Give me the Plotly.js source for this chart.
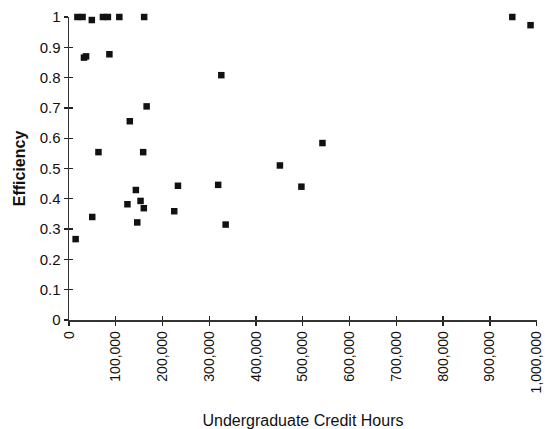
<!DOCTYPE html>
<html>
<head>
<meta charset="utf-8">
<script src="https://cdn.plot.ly/plotly-3.0.1.min.js"></script>
<style>html,body{margin:0;padding:0;background:#fff;}#chart{width:545px;height:429px;}</style>
</head>
<body>
<div id="chart"></div>
<script>
// Undergraduate credit hours (x) and efficiency (y)
const creditHours = [18000, 29000, 48800, 72600, 83200, 107600, 160700,
  32000, 36500, 86400, 325700, 166000, 130000, 63000, 158600,
  14200, 49700, 125000, 143000, 146000, 153000, 160000, 225000, 233000,
  319000, 335000, 451000, 497000, 542000, 948000, 987000];
const efficiency = [1.0, 1.0, 0.99, 1.0, 1.0, 1.0, 1.0,
  0.866, 0.870, 0.877, 0.808, 0.705, 0.656, 0.554, 0.554,
  0.267, 0.340, 0.382, 0.429, 0.322, 0.393, 0.369, 0.359, 0.443,
  0.446, 0.315, 0.510, 0.440, 0.584, 1.0, 0.973];
const xTickVals = [0, 100000, 200000, 300000, 400000, 500000, 600000, 700000, 800000, 900000, 1000000];
const xTitle = "Undergraduate Credit Hours";
const yTitle = "Efficiency";

const font = "Liberation Sans, Arial, sans-serif";
const trace = {
  x: creditHours, y: efficiency, type: "scatter", mode: "markers",
  marker: {symbol: "square", size: 6.5, color: "#111"},
  cliponaxis: false, showlegend: false, hoverinfo: "none"
};
const xr = [0, 1000800];
const layout = {
  width: 545, height: 429,
  margin: {l: 69, r: 8, t: 17, b: 109},
  paper_bgcolor: "#fff", plot_bgcolor: "#fff",
  font: {family: font, color: "#111"},
  xaxis: {
    range: xr, tickvals: xTickVals, tickformat: ",", tickangle: -90,
    ticklabeloverflow: "allow",
    showgrid: false, zeroline: false, showline: true, linecolor: "#333", linewidth: 1.5,
    ticks: "outside", ticklen: 4, tickwidth: 1.3, tickcolor: "#222",
    tickfont: {family: font, size: 14, color: "#111"},
    title: {text: xTitle, font: {family: font, size: 16, color: "#111"}, standoff: 24},
    automargin: false, fixedrange: true
  },
  yaxis: {
    range: [0, 1], dtick: 0.1,
    showgrid: false, zeroline: false, showline: true, linecolor: "#333", linewidth: 1.5,
    ticks: "outside", ticklen: 4, tickwidth: 1.3, tickcolor: "#222",
    tickfont: {family: font, size: 15, color: "#111"},
    title: {text: "<b>" + yTitle + "</b>", font: {family: font, size: 16, color: "#111"}, standoff: 10},
    automargin: false, fixedrange: true
  },
  xaxis2: {
    overlaying: "x", range: xr, tickvals: xTickVals,
    showticklabels: false, showgrid: false, zeroline: false, showline: false,
    ticks: "inside", ticklen: 4, tickwidth: 1.3, tickcolor: "#222", fixedrange: true
  },
  yaxis2: {
    overlaying: "y", range: [0, 1], dtick: 0.1,
    showticklabels: false, showgrid: false, zeroline: false, showline: false,
    ticks: "inside", ticklen: 4, tickwidth: 1.3, tickcolor: "#222", fixedrange: true
  }
};
const helper = {x: [0], y: [0], xaxis: "x2", yaxis: "y2", type: "scatter", mode: "markers",
  marker: {opacity: 0}, showlegend: false, hoverinfo: "none"};
Plotly.newPlot("chart", [helper, trace], layout, {displayModeBar: false, staticPlot: true});
</script>
</body>
</html>
